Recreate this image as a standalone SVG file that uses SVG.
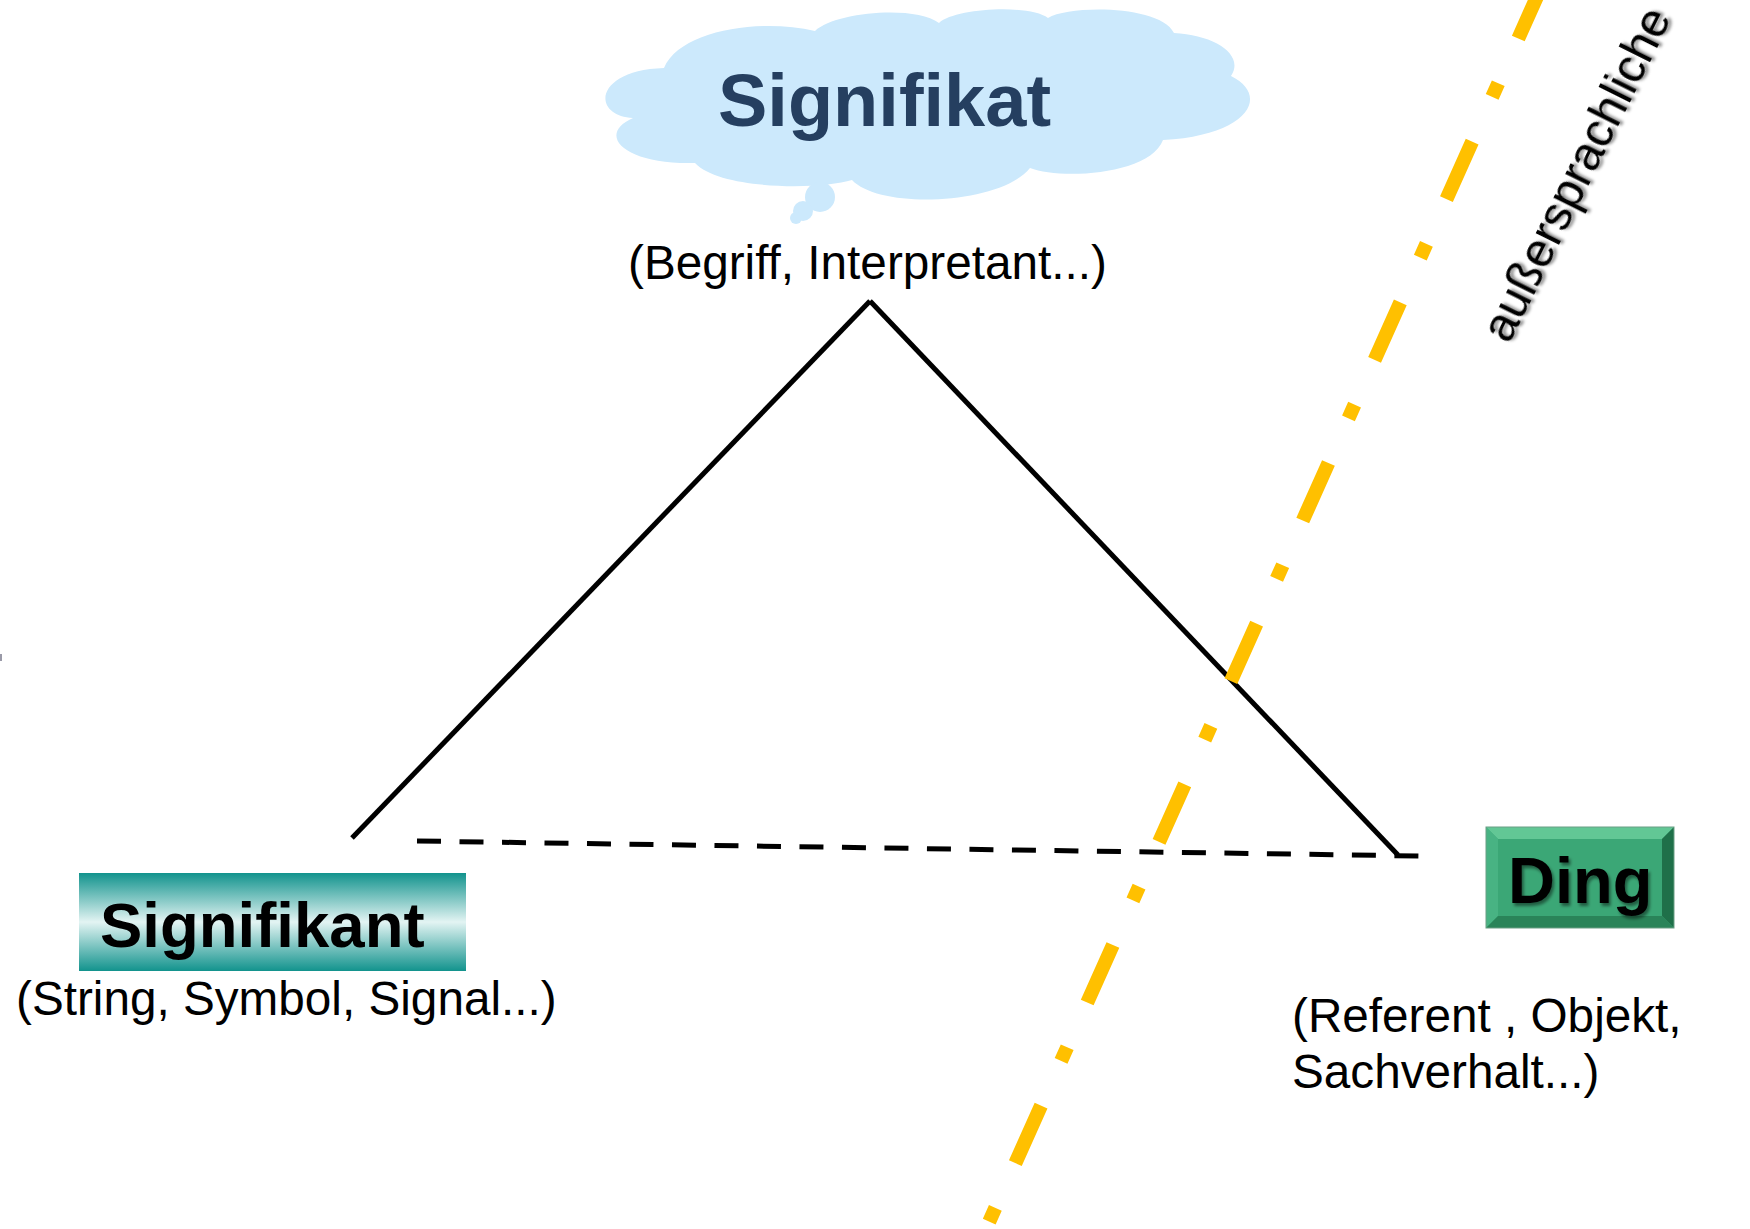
<svg xmlns="http://www.w3.org/2000/svg" width="1750" height="1229" viewBox="0 0 1750 1229">
<style>
.desc{font-family:"Liberation Sans",Arial,sans-serif;font-size:47.7px;fill:#000;font-variant-ligatures:none}
.title{font-family:"Liberation Sans",Arial,sans-serif;font-weight:bold;font-variant-ligatures:none}
.tri{stroke:#000;stroke-width:5;fill:none}
</style>
<defs>
<linearGradient id="teal" x1="0" y1="0" x2="0" y2="1">
<stop offset="0" stop-color="#12938D"/>
<stop offset="0.5" stop-color="#E3F4F3"/>
<stop offset="1" stop-color="#12938D"/>
</linearGradient>
<filter id="shadow" x="-10%" y="-10%" width="130%" height="130%">
<feDropShadow dx="2" dy="3" stdDeviation="1.5" flood-color="#000" flood-opacity="0.45"/>
</filter>
</defs>
<rect width="1750" height="1229" fill="#fff"/>
<rect x="0" y="654" width="2" height="7" fill="#9a9aa8"/>

<g id="connectors">
<line class="tri" x1="352" y1="838" x2="870" y2="301"/>
<line class="tri" x1="870" y1="301" x2="1398" y2="855"/>
<line class="tri" x1="417" y1="841" x2="1419" y2="856" stroke-dasharray="24 18.5"/>
<line x1="1544" y1="-19" x2="981" y2="1240" stroke="#FFC000" stroke-width="14" stroke-dasharray="63 49 15 49"/>
</g>

<g id="signifikat">
<path fill="#CCE9FC" d="M633,118 C590,115 595,70 664,68 C680,30 760,18 815,31 C835,12 915,5 939,23 C955,8 1030,4 1048,18 C1070,5 1160,5 1174,33 C1215,35 1245,55 1231,76 C1270,95 1250,135 1163,140 C1150,175 1060,180 1030,168 C1000,205 880,210 852,180 C820,190 720,190 695,163 C625,165 595,135 633,118 Z"/>
<circle cx="820" cy="197" r="15" fill="#CCE9FC"/>
<circle cx="803" cy="211" r="10" fill="#CCE9FC"/>
<circle cx="796" cy="218" r="6" fill="#CCE9FC"/>
<text class="title" x="718" y="126" font-size="74" fill="#253F60">Signifikat</text>
<text class="desc" x="628" y="279">(Begriff, Interpretant...)</text>
</g>

<g id="signifikant">
<rect x="79" y="873" width="387" height="98" fill="url(#teal)"/>
<text class="title" x="100" y="947" font-size="63.5" fill="#000">Signifikant</text>
<text class="desc" x="16" y="1015">(String, Symbol, Signal...)</text>
</g>

<g id="ding">
<rect x="1486" y="827" width="188" height="101" fill="#3BA776"/>
<polygon points="1486,827 1674,827 1662,839 1498,839" fill="#62C795"/>
<polygon points="1486,827 1498,839 1498,916 1486,928" fill="#48B383"/>
<polygon points="1674,827 1674,928 1662,916 1662,839" fill="#1F7049"/>
<polygon points="1486,928 1498,916 1662,916 1674,928" fill="#2A8459"/>
<rect x="1486" y="827" width="188" height="101" fill="none" stroke="#6a9f85" stroke-width="1"/>
<text class="title" x="1508" y="903" font-size="65" fill="#000" filter="url(#shadow)">Ding</text>
<text class="desc" x="1292" y="1032">(Referent , Objekt,</text>
<text class="desc" x="1292" y="1088">Sachverhalt...)</text>
</g>

<g id="aussersprachliche">
<text class="desc" font-size="48" transform="translate(1509,345) rotate(-63.5)" filter="url(#shadow)">außersprachliche</text>
</g>
</svg>
